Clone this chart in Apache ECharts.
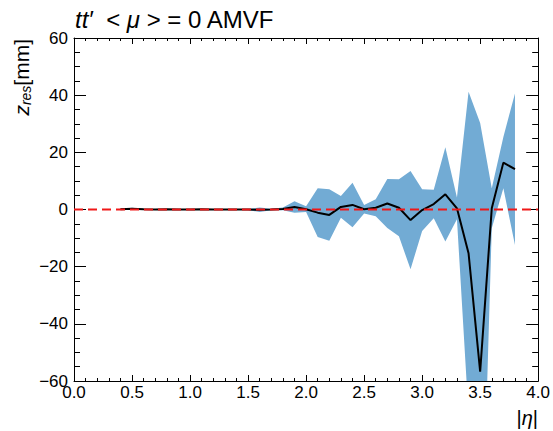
<!DOCTYPE html>
<html>
<head>
<meta charset="utf-8">
<script src="https://cdn.jsdelivr.net/npm/echarts@6/dist/echarts.min.js"></script>
<style>
  html, body { margin: 0; padding: 0; background: #fff; }
  #chart { width: 553px; height: 431px; }
</style>
</head>
<body>
<div id="chart"></div>
<script>
// |eta| bin centres
const eta = [0.4, 0.5, 0.6, 0.7, 0.8, 0.9, 1.0, 1.1, 1.2, 1.3, 1.4, 1.5, 1.6, 1.7,
             1.8, 1.9, 2.0, 2.1, 2.2, 2.3, 2.4, 2.5, 2.6, 2.7, 2.8, 2.9, 3.0, 3.1,
             3.2, 3.3, 3.4, 3.5, 3.6, 3.7, 3.8];
// mean z residual per bin [mm]
const zRes = [0.05, 0.3, 0.1, 0.0, 0.05, 0.0, 0.0, 0.05, 0.0, 0.0, 0.0, 0.0, -0.1, 0.0,
              0.2, 0.9, 0.1, -1.1, -1.9, 0.9, 1.6, 0.1, 0.6, 2.1, 0.6, -3.7, -0.2, 1.9,
              5.3, 0.4, -15.3, -56.7, 0.4, 16.4, 14.1];
// spread (half-width of the shaded band) per bin [mm]
const zErr = [0.2, 0.3, 0.2, 0.1, 0.1, 0.1, 0.1, 0.1, 0.1, 0.1, 0.2, 0.2, 0.8, 0.3,
              0.5, 2.0, 1.0, 8.5, 9.0, 3.8, 7.8, 1.5, 3.0, 8.6, 10.0, 17.2, 7.3, 5.0,
              16.5, 3.8, 56.5, 87.0, 7.0, 9.0, 26.5];
// reference line at zero
const refX = [0, 4];
const refY = [0, 0];

const bandLo = zRes.map((v, i) => v - zErr[i]);
const bandHi = zRes.map((v, i) => v + zErr[i]);

const FONT = 'Liberation Sans, Arial, Helvetica, sans-serif';
const minus = v => String(v).replace('-', '\u2212');

const frameLine = { show: true, onZero: false, lineStyle: { color: '#000', width: 1 } };
const xTick = { show: true, inside: true, length: 6, lineStyle: { color: '#000', width: 1 } };
const xMinor = { show: true, splitNumber: 5, length: 3, lineStyle: { color: '#000', width: 1 } };
const yTick = { show: true, inside: true, length: 12, lineStyle: { color: '#000', width: 1 } };
const yMinor = { show: true, splitNumber: 4, length: 6, lineStyle: { color: '#000', width: 1 } };

const chart = echarts.init(document.getElementById('chart'), null, { renderer: 'svg' });

chart.setOption({
  animation: false,
  backgroundColor: '#fff',
  grid: { left: 74, right: 13, top: 38, bottom: 50 },
  xAxis: [
    {
      type: 'value', position: 'bottom', min: 0, max: 4, interval: 0.5,
      axisLine: frameLine, axisTick: xTick, minorTick: xMinor,
      splitLine: { show: false }, minorSplitLine: { show: false },
      axisLabel: {
        color: '#000', fontSize: 17, fontFamily: FONT, margin: 3,
        formatter: v => v.toFixed(1)
      }
    },
    {
      type: 'value', position: 'top', min: 0, max: 4, interval: 0.5,
      axisLine: frameLine, axisTick: xTick, minorTick: xMinor,
      splitLine: { show: false }, axisLabel: { show: false }
    }
  ],
  yAxis: [
    {
      type: 'value', position: 'left', min: -60, max: 60, interval: 20,
      axisLine: frameLine, axisTick: yTick, minorTick: yMinor,
      splitLine: { show: false }, minorSplitLine: { show: false },
      axisLabel: {
        color: '#000', fontSize: 17, fontFamily: FONT, margin: 6,
        formatter: v => minus(v)
      }
    },
    {
      type: 'value', position: 'right', min: -60, max: 60, interval: 20,
      axisLine: frameLine, axisTick: yTick, minorTick: yMinor,
      splitLine: { show: false }, axisLabel: { show: false }
    }
  ],
  graphic: [
    {
      type: 'text', left: 75, top: 7,
      style: {
        text: '{it|tt\u2032}  < {it|\u03bc} > = 0 AMVF',
        fill: '#000', font: '24px ' + FONT,
        rich: {
          it: { fontStyle: 'italic', fontSize: 24, fontFamily: FONT, fill: '#000' }
        }
      }
    },
    {
      type: 'text', x: 21, y: 39, rotation: Math.PI / 2,
      style: {
        text: '{z|z}{s|res}{n|[mm]}',
        align: 'right', verticalAlign: 'middle',
        rich: {
          z: { fontStyle: 'italic', fontSize: 21, fontFamily: FONT, fill: '#000', lineHeight: 24, verticalAlign: 'middle' },
          s: { fontStyle: 'italic', fontSize: 14, fontFamily: FONT, fill: '#000', lineHeight: 24, verticalAlign: 'bottom', padding: [8, 0, 0, 0] },
          n: { fontSize: 21, fontFamily: FONT, fill: '#000', lineHeight: 24, verticalAlign: 'middle' }
        }
      }
    },
    {
      type: 'text', x: 538, y: 418,
      style: {
        text: '|{it|\u03b7}|', align: 'right', verticalAlign: 'middle',
        font: '20px ' + FONT, fill: '#000',
        rich: { it: { fontStyle: 'italic', fontSize: 20, fontFamily: FONT, fill: '#000' } }
      }
    }
  ],
  series: [
    {
      // shaded spread band
      type: 'custom', xAxisIndex: 0, yAxisIndex: 0, clip: true, z: 1, silent: true,
      data: eta.map((x, i) => [x, bandLo[i], bandHi[i]]),
      encode: { x: 0, y: [1, 2] },
      renderItem: (params, api) => {
        if (params.dataIndex !== 0) return null;
        const pts = [];
        for (let i = 0; i < eta.length; i++) pts.push(api.coord([eta[i], bandHi[i]]));
        for (let i = eta.length - 1; i >= 0; i--) pts.push(api.coord([eta[i], bandLo[i]]));
        return { type: 'polygon', shape: { points: pts }, style: { fill: '#72abd4', stroke: null } };
      }
    },
    {
      type: 'line', xAxisIndex: 0, yAxisIndex: 0, z: 3, silent: true,
      data: eta.map((x, i) => [x, zRes[i]]),
      showSymbol: false, symbol: 'none',
      lineStyle: { color: '#000', width: 2 }
    },
    {
      type: 'line', xAxisIndex: 0, yAxisIndex: 0, z: 4, silent: true,
      data: refX.map((x, i) => [x, refY[i]]),
      showSymbol: false, symbol: 'none',
      lineStyle: { color: '#f01818', width: 2, type: [9, 5] }
    }
  ]
});
</script>
</body>
</html>
